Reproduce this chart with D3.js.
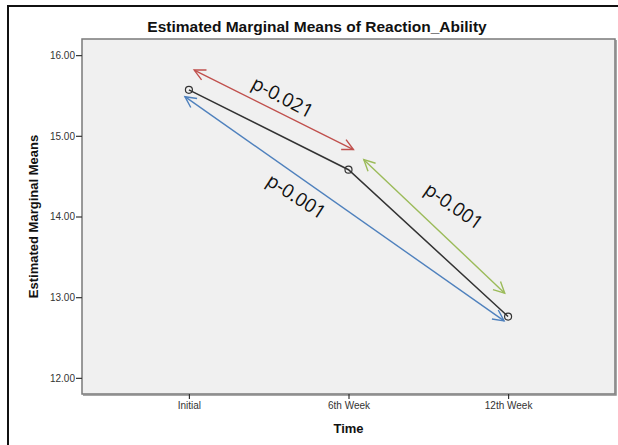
<!DOCTYPE html>
<html>
<head>
<meta charset="utf-8">
<script src="https://cdn.jsdelivr.net/npm/d3@7"></script>
<style>
    body { margin: 0; background: #fff; }
    svg { display: block; }
</style>
</head>
<body>
<svg id="chart" width="618" height="445"></svg>
<script>
// data
var categories = ["Initial", "6th Week", "12th Week"];
var means = [15.57, 14.58, 12.76];
var yTicks = [12, 13, 14, 15, 16];

// annotations: index along x (0..2) and value along y
var arrowNames = ["red", "blue", "green"];
var arrowColors = ["#c0504d", "#4f81bd", "#9bbb59"];
var arrowFrom = [[0.033, 15.815], [-0.025, 15.485], [1.096, 14.704]];
var arrowTo = [[1.031, 14.83], [1.975, 12.707], [1.979, 13.05]];
var labelTexts = ["p-0.021", "p-0.001", "p-0.001"];
var labelAt = [[0.5875, 15.48], [0.673, 14.25], [1.66, 14.13]];
var labelAngle = [28, 33, 35];

var svg = d3.select("#chart");
var plot = { left: 82, top: 39, right: 615, bottom: 394 };

// outer frame (only the left/top edges show)
svg.append("rect")
    .attr("x", 8).attr("y", 6).attr("width", 700).attr("height", 500)
    .attr("fill", "none").attr("stroke", "#111").attr("stroke-width", 2);

var x = d3.scalePoint().domain(categories).range([plot.left, plot.right]).padding(0.67);
var xi = d3.scaleLinear().domain([0, 2]).range([x(categories[0]), x(categories[2])]);
var y = d3.scaleLinear().domain([11.8, 16.2]).range([plot.bottom, plot.top]);

// plot background
svg.append("rect")
    .attr("x", plot.left).attr("y", plot.top)
    .attr("width", plot.right - plot.left).attr("height", plot.bottom - plot.top)
    .attr("fill", "#f0f0f0").attr("stroke", "#7a7a7a").attr("stroke-width", 1.5);
// shadow on right and bottom
svg.append("path")
    .attr("d", "M" + (plot.right + 1) + "," + (plot.top + 1) + "V" + (plot.bottom + 1) + "H" + (plot.left + 1))
    .attr("fill", "none").attr("stroke", "#8a8a8a").attr("stroke-width", 1.5);

// axes
var yAxis = svg.append("g")
    .attr("transform", "translate(" + plot.left + ",0)")
    .call(d3.axisLeft(y).tickValues(yTicks).tickSize(6).tickFormat(d3.format(".2f")));
var xAxis = svg.append("g")
    .attr("transform", "translate(0," + plot.bottom + ")")
    .call(d3.axisBottom(x).tickSize(5));
[yAxis, xAxis].forEach(function (g) {
    g.select(".domain").remove();
    g.selectAll("line").attr("stroke", "#333").attr("stroke-width", 1.2);
    g.selectAll("text").attr("fill", "#333")
        .style("font-family", "Arial, 'Liberation Sans', sans-serif").style("font-size", "10px");
});
yAxis.selectAll("text").attr("x", -7);
xAxis.selectAll("text").attr("y", 8);

// titles
svg.append("text")
    .attr("x", 317).attr("y", 32).attr("text-anchor", "middle")
    .style("font-family", "Arial, 'Liberation Sans', sans-serif")
    .style("font-size", "15.5px").style("font-weight", "bold").attr("fill", "#111")
    .text("Estimated Marginal Means of Reaction_Ability");
svg.append("text")
    .attr("transform", "translate(38," + y(14) + ") rotate(-90)")
    .attr("text-anchor", "middle")
    .style("font-family", "Arial, 'Liberation Sans', sans-serif")
    .style("font-size", "13px").style("font-weight", "bold").attr("fill", "#111")
    .text("Estimated Marginal Means");
svg.append("text")
    .attr("x", x(categories[1])).attr("y", 433).attr("text-anchor", "middle")
    .style("font-family", "Arial, 'Liberation Sans', sans-serif")
    .style("font-size", "13px").style("font-weight", "bold").attr("fill", "#111")
    .text("Time");

// means line
var line = d3.line()
    .x(function (d, i) { return x(categories[i]); })
    .y(function (d) { return y(d); });
svg.append("path")
    .datum(means)
    .attr("d", line)
    .attr("fill", "none").attr("stroke", "#333").attr("stroke-width", 1.5);
svg.selectAll("circle.pt")
    .data(means)
    .enter().append("circle")
    .attr("class", "pt")
    .attr("cx", function (d, i) { return x(categories[i]); })
    .attr("cy", function (d) { return y(d); })
    .attr("r", 3.5)
    .attr("fill", "none").attr("stroke", "#333").attr("stroke-width", 1.2);

// open arrowheads, one per colour (tip at the origin, pointing along the line)
var defs = svg.append("defs");
arrowNames.forEach(function (name, i) {
    defs.append("marker")
        .attr("id", "head-" + name)
        .attr("viewBox", "-13 -7 15 14")
        .attr("refX", 0).attr("refY", 0)
        .attr("markerWidth", 15).attr("markerHeight", 14)
        .attr("markerUnits", "userSpaceOnUse")
        .attr("orient", "auto-start-reverse")
        .append("path")
        .attr("d", "M-11,-5.5L0,0L-11,5.5")
        .attr("fill", "none").attr("stroke", arrowColors[i]).attr("stroke-width", 1.4);
});

arrowNames.forEach(function (name, i) {
    svg.append("line")
        .attr("x1", xi(arrowFrom[i][0])).attr("y1", y(arrowFrom[i][1]))
        .attr("x2", xi(arrowTo[i][0])).attr("y2", y(arrowTo[i][1]))
        .attr("stroke", arrowColors[i]).attr("stroke-width", 1.4)
        .attr("marker-start", "url(#head-" + name + ")")
        .attr("marker-end", "url(#head-" + name + ")");
});

// p-value labels
labelTexts.forEach(function (t, i) {
    svg.append("text")
        .attr("transform", "translate(" + xi(labelAt[i][0]) + "," + y(labelAt[i][1]) + ") rotate(" + labelAngle[i] + ")")
        .attr("text-anchor", "middle").attr("dy", "0.35em")
        .style("font-family", "'Open Sans', 'Noto Sans', sans-serif")
        .style("font-size", "19px").attr("fill", "#111")
        .text(t);
});
</script>
</body>
</html>
